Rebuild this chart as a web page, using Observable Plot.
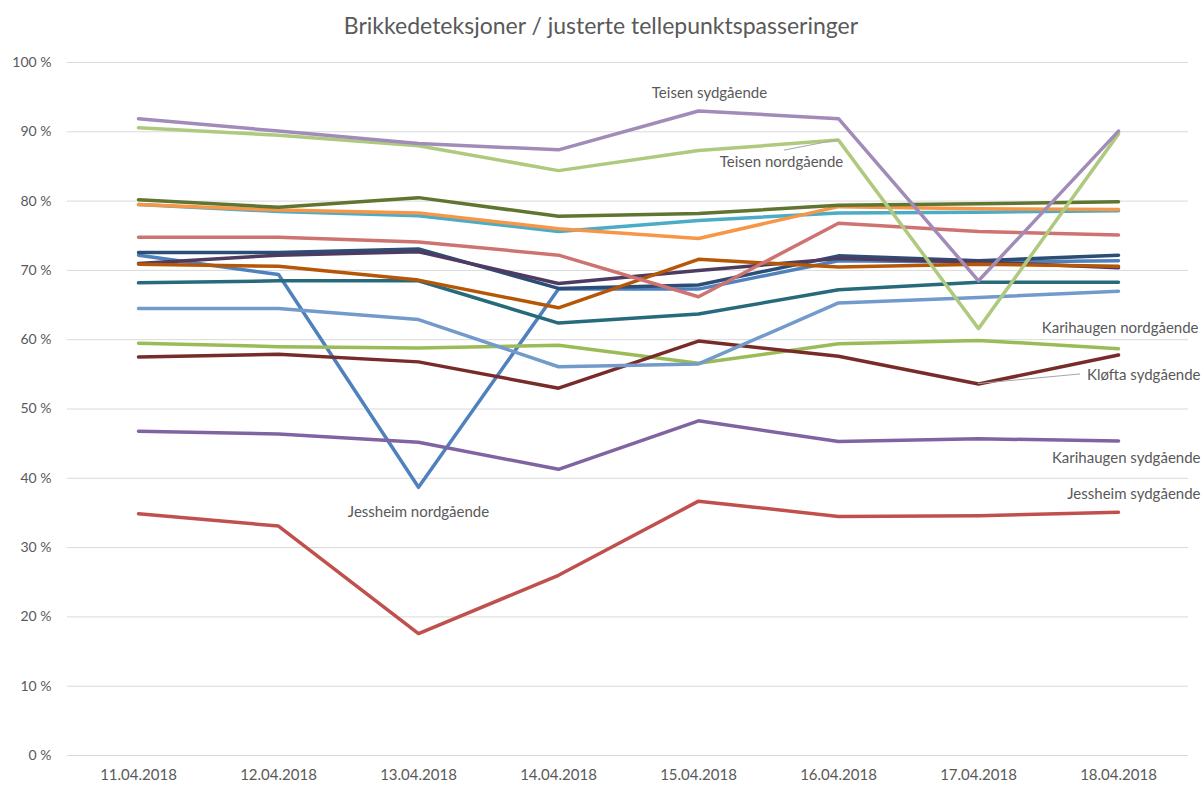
<!DOCTYPE html>
<html><head><meta charset="utf-8">
<script src="https://cdn.jsdelivr.net/npm/d3@7"></script>
<script src="https://cdn.jsdelivr.net/npm/@observablehq/plot@0.6"></script>
<style>
body{margin:0;background:#fff;}
#title{height:40px;text-align:center;font-family:Lato,"Open Sans",sans-serif;font-size:23px;color:#595959;line-height:50px;white-space:nowrap;}
#chart svg{display:block;}
</style></head><body>
<div id="title">Brikkedeteksjoner / justerte tellepunktspasseringer</div>
<div id="chart"></div>
<script>
const dates = ["11.04.2018","12.04.2018","13.04.2018","14.04.2018","15.04.2018","16.04.2018","17.04.2018","18.04.2018"];
const yTicks = [0,10,20,30,40,50,60,70,80,90,100];

const seriesNames = [
  "Jessheim nordgående","Jessheim sydgående","Karihaugen nordgående","Karihaugen sydgående",
  "Serie 5","Serie 6","Serie 7","Kløfta sydgående","Serie 9","Serie 10","Serie 11","Serie 12",
  "Serie 13","Serie 14","Teisen nordgående","Teisen sydgående"
];
const seriesColors = [
  "#4F81BD","#C0504D","#9BBB59","#8064A2","#4BACC6","#F79646",
  "#2C4D75","#772C2A","#5F7530","#4D3B62","#276A7C","#B65708",
  "#729ACA","#CD7371","#AFCA7F","#A18CB9"
];

const jesNord   = [72.2, 69.4, 38.7, 67.3, 67.3, 71.4, 71.2, 71.4];
const jesSyd    = [34.9, 33.1, 17.6, 26.0, 36.7, 34.5, 34.6, 35.1];
const kariNord  = [59.5, 59.0, 58.8, 59.2, 56.6, 59.4, 59.9, 58.7];
const kariSyd   = [46.8, 46.4, 45.2, 41.3, 48.3, 45.3, 45.7, 45.4];
const serie5    = [79.5, 78.5, 77.9, 75.6, 77.2, 78.3, 78.4, 78.6];
const serie6    = [79.5, 78.7, 78.3, 76.0, 74.6, 79.2, 78.9, 78.8];
const serie7    = [72.6, 72.6, 73.1, 67.4, 67.9, 72.1, 71.4, 72.2];
const klofSyd   = [57.5, 57.9, 56.8, 53.0, 59.8, 57.6, 53.6, 57.8];
const serie9    = [80.2, 79.1, 80.5, 77.8, 78.2, 79.4, 79.6, 79.9];
const serie10   = [71.0, 72.2, 72.7, 68.1, 70.0, 71.7, 71.2, 70.4];
const serie11   = [68.2, 68.5, 68.5, 62.4, 63.7, 67.2, 68.3, 68.3];
const serie12   = [70.9, 70.6, 68.6, 64.6, 71.6, 70.5, 70.9, 70.6];
const serie13   = [64.5, 64.5, 62.9, 56.1, 56.5, 65.3, 66.1, 67.0];
const serie14   = [74.8, 74.8, 74.1, 72.2, 66.2, 76.8, 75.6, 75.1];
const teisNord  = [90.6, 89.5, 88.0, 84.4, 87.3, 88.8, 61.6, 89.7];
const teisSyd   = [91.9, 90.1, 88.3, 87.4, 93.0, 91.9, 68.5, 90.1];

const seriesValues = [jesNord, jesSyd, kariNord, kariSyd, serie5, serie6, serie7, klofSyd,
  serie9, serie10, serie11, serie12, serie13, serie14, teisNord, teisSyd];

const table = [];
seriesNames.forEach((name, i) => {
  dates.forEach((d, j) => table.push({series: name, date: d, value: seriesValues[i][j]}));
});
const valueOf = (name, date) => seriesValues[seriesNames.indexOf(name)][dates.indexOf(date)];

// data labels (anchored to a point of their series, offset in pixels)
const labels = [
  {series: "Teisen sydgående", date: "15.04.2018", dx: 11, dy: -18, anchor: "middle"},
  {series: "Teisen nordgående", date: "16.04.2018", dx: -57, dy: 22.5, anchor: "middle"},
  {series: "Karihaugen nordgående", date: "18.04.2018", dx: 80, dy: -21, anchor: "end"},
  {series: "Kløfta sydgående", date: "18.04.2018", dx: 82, dy: 20.5, anchor: "end"},
  {series: "Karihaugen sydgående", date: "18.04.2018", dx: 82, dy: 17.6, anchor: "end"},
  {series: "Jessheim sydgående", date: "18.04.2018", dx: 82, dy: -18.3, anchor: "end"},
  {series: "Jessheim nordgående", date: "13.04.2018", dx: 0, dy: 25, anchor: "middle"}
];
// leader lines: from a series point to a pixel offset from a reference point
const leaders = [
  {series: "Teisen nordgående", date: "16.04.2018", toDate: "16.04.2018", toDx: -54, toDy: 10.5},
  {series: "Kløfta sydgående", date: "17.04.2018", toSeries: "Kløfta sydgående", toDate: "18.04.2018", toDx: -38, toDy: 19.5}
];

const textMarks = labels.map(l => Plot.text([{x: l.date, y: valueOf(l.series, l.date), t: l.series}], {
  x: "x", y: "y", text: "t", dx: l.dx, dy: l.dy, textAnchor: l.anchor,
  fill: "#595959", fontSize: 15, fontFamily: "Lato"
}));

const plot = Plot.plot({
  width: 1202, height: 745,
  marginTop: 22, marginBottom: 30, marginLeft: 67, marginRight: 14,
  style: {fontFamily: "Lato", fontSize: "14px", color: "#595959", background: "white", overflow: "visible"},
  x: {type: "point", domain: dates, padding: 0.5, label: null},
  y: {domain: [0, 100], label: null},
  color: {domain: seriesNames, range: seriesColors},
  marks: [
    Plot.gridY(yTicks, {stroke: "#d9d9d9", strokeOpacity: 1, strokeWidth: 1}),
    Plot.axisY(yTicks, {tickSize: 0, tickPadding: 16, tickFormat: d => d + " %", fontSize: 14, fill: "#595959"}),
    Plot.axisX({tickSize: 0, tickPadding: 14, fontSize: 15, fill: "#595959"}),
    Plot.line(table, {x: "date", y: "value", z: "series", stroke: "series", strokeWidth: 3.5,
      strokeLinejoin: "round", strokeLinecap: "round"}),
    ...textMarks
  ]
});
document.getElementById("chart").appendChild(plot);

// leader lines drawn with the plot's own scales
const xs = plot.scale("x"), ys = plot.scale("y");
const g = d3.select(plot).append("g").attr("stroke", "#a6a6a6").attr("stroke-width", 1);
leaders.forEach(l => {
  const x1 = xs.apply(l.date), y1 = ys.apply(valueOf(l.series, l.date));
  const refY = valueOf(l.toSeries || l.series, l.toDate);
  const x2 = xs.apply(l.toDate) + l.toDx, y2 = ys.apply(refY) + l.toDy;
  g.append("line").attr("x1", x1).attr("y1", y1).attr("x2", x2).attr("y2", y2);
});
</script>
</body></html>
